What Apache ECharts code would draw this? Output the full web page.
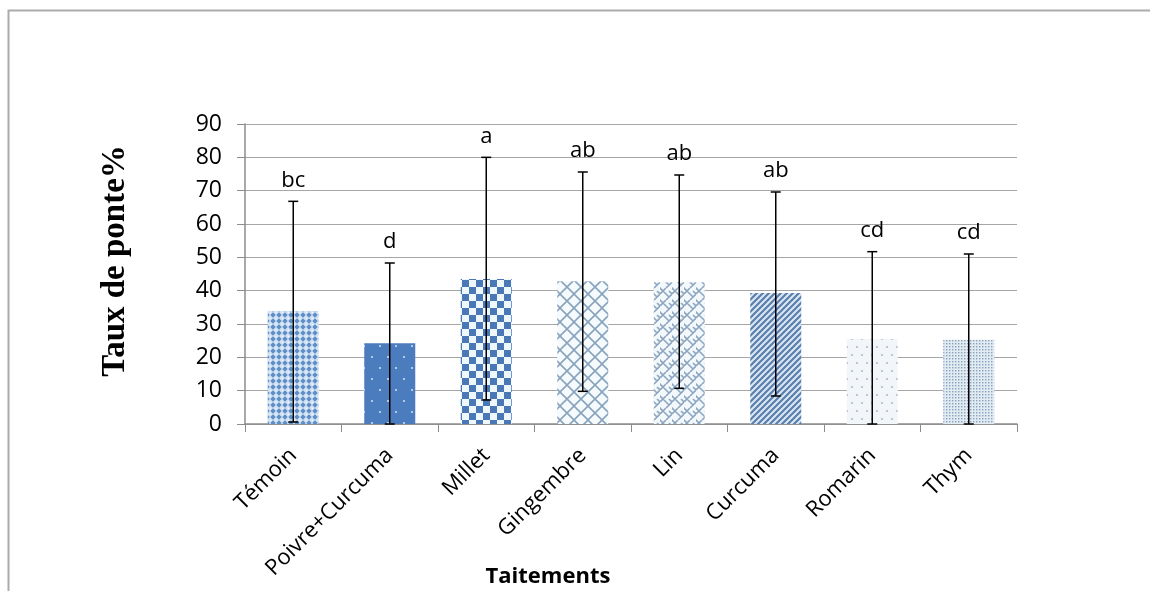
<!DOCTYPE html>
<html>
<head>
<meta charset="utf-8">
<script src="https://cdn.jsdelivr.net/npm/echarts@6/dist/echarts.min.js"></script>
<style>
html,body{margin:0;padding:0;background:#fff;}
#chart{width:1150px;height:591px;}
</style>
</head>
<body>
<div id="chart"></div>
<script>
// ---- data ----
var categories = ['Témoin', 'Poivre+Curcuma', 'Millet', 'Gingembre', 'Lin', 'Curcuma', 'Romarin', 'Thym'];
var means = [33.9, 24.2, 43.5, 42.8, 42.5, 39.3, 25.5, 25.3];
var errUpper = [66.8, 48.3, 80.0, 75.6, 74.7, 69.6, 51.7, 51.0];
var errLower = [0.6, 0.0, 7.2, 9.8, 10.7, 8.4, 0.0, 0.0];
var letters = ['bc', 'd', 'a', 'ab', 'ab', 'ab', 'cd', 'cd'];
var yTicks = [0, 10, 20, 30, 40, 50, 60, 70, 80, 90];

// ---- patterns (style only) ----
function makePattern(w, h, draw) {
  var c = document.createElement('canvas');
  c.width = w; c.height = h;
  var ctx = c.getContext('2d');
  draw(ctx, w, h);
  return { image: c, repeat: 'repeat' };
}
function dot(ctx, x, y, r) { ctx.beginPath(); ctx.arc(x, y, r, 0, Math.PI * 2); ctx.fill(); }

var patterns = [
  // Témoin: small diamonds
  makePattern(6, 6, function (ctx) {
    ctx.fillStyle = '#d2e3f3'; ctx.fillRect(0, 0, 6, 6);
    ctx.fillStyle = '#5f8dc6';
    ctx.beginPath(); ctx.moveTo(3, 0.3); ctx.lineTo(5.7, 3); ctx.lineTo(3, 5.7); ctx.lineTo(0.3, 3); ctx.closePath(); ctx.fill();
    ctx.fillStyle = '#f2f8fd'; ctx.fillRect(0, 0, 1, 1);
  }),
  // Poivre+Curcuma: solid blue with small light dots
  makePattern(16, 22, function (ctx) {
    ctx.fillStyle = '#4a7cbe'; ctx.fillRect(0, 0, 16, 22);
    ctx.fillStyle = '#c8dcef';
    dot(ctx, 4, 5, 1.1); dot(ctx, 12, 16, 1.1);
  }),
  // Millet: checkerboard
  makePattern(14, 14, function (ctx) {
    ctx.fillStyle = '#eef7fc'; ctx.fillRect(0, 0, 14, 14);
    ctx.fillStyle = '#4a77b6';
    ctx.fillRect(0, 0, 7, 7); ctx.fillRect(7, 7, 7, 7);
  }),
  // Gingembre: diagonal crosshatch
  makePattern(14, 14, function (ctx) {
    ctx.fillStyle = '#f5fafd'; ctx.fillRect(0, 0, 14, 14);
    ctx.strokeStyle = '#8aa3bd'; ctx.lineWidth = 1.6;
    ctx.beginPath();
    ctx.moveTo(-1, -1); ctx.lineTo(15, 15);
    ctx.moveTo(15, -1); ctx.lineTo(-1, 15);
    ctx.stroke();
  }),
  // Lin: weave
  makePattern(12, 12, function (ctx) {
    ctx.fillStyle = '#f3f8fc'; ctx.fillRect(0, 0, 12, 12);
    ctx.strokeStyle = '#8ca5bf'; ctx.lineWidth = 1.6;
    ctx.beginPath();
    ctx.moveTo(0, 6); ctx.lineTo(6, 0);
    ctx.moveTo(6, 12); ctx.lineTo(12, 6);
    ctx.moveTo(-1, 11); ctx.lineTo(1, 13);
    ctx.moveTo(3, 3); ctx.lineTo(9, 9);
    ctx.moveTo(9, 3); ctx.lineTo(12, 6);
    ctx.moveTo(0, 0); ctx.lineTo(3, 3);
    ctx.stroke();
  }),
  // Curcuma: diagonal stripes
  makePattern(6, 6, function (ctx) {
    ctx.fillStyle = '#dbe7f3'; ctx.fillRect(0, 0, 6, 6);
    ctx.strokeStyle = '#5a7fae'; ctx.lineWidth = 2.2;
    ctx.beginPath();
    ctx.moveTo(-1, 7); ctx.lineTo(7, -1);
    ctx.moveTo(-4, 4); ctx.lineTo(4, -4);
    ctx.moveTo(2, 10); ctx.lineTo(10, 2);
    ctx.stroke();
  }),
  // Romarin: sparse dots
  makePattern(10, 16, function (ctx) {
    ctx.fillStyle = '#f3f6f9'; ctx.fillRect(0, 0, 10, 16);
    ctx.fillStyle = '#a3b2c2';
    dot(ctx, 2, 3, 0.9); dot(ctx, 7, 11, 0.9);
  }),
  // Thym: dense dots
  makePattern(3, 3, function (ctx) {
    ctx.fillStyle = '#e2eaf2'; ctx.fillRect(0, 0, 3, 3);
    ctx.fillStyle = '#86a2bd';
    ctx.fillRect(1, 1, 1.4, 1.4);
  })
];

var chart = echarts.init(document.getElementById('chart'), null, { renderer: 'canvas' });

var barData = means.map(function (v, i) {
  return { value: v, itemStyle: { color: patterns[i] } };
});
var errData = categories.map(function (c, i) { return [i, errLower[i], errUpper[i]]; });

var option = {
  backgroundColor: '#ffffff',
  animation: false,
  grid: { left: 245, right: 133, top: 124, bottom: 167 },
  xAxis: {
    type: 'category',
    data: categories,
    axisLine: { lineStyle: { color: '#8c8c8c', width: 1.5 } },
    axisTick: { show: true, length: 8, lineStyle: { color: '#8c8c8c' } },
    axisLabel: {
      rotate: 45, margin: 28, color: '#000', fontSize: 22,
      fontFamily: 'Open Sans', interval: 0
    }
  },
  yAxis: {
    type: 'value', min: 0, max: 90, interval: 10,
    axisLine: { show: true, lineStyle: { color: '#8c8c8c', width: 1.5 } },
    axisTick: { show: true, length: 8, lineStyle: { color: '#8c8c8c' } },
    splitLine: { lineStyle: { color: '#a6a6a6', width: 1 } },
    axisLabel: {
      margin: 23, color: '#000', fontSize: 23, fontFamily: 'Open Sans',
      formatter: function (v) { return yTicks.indexOf(v) >= 0 ? String(v) : ''; }
    }
  },
  graphic: [
    { type: 'rect', shape: { x: 8.5, y: 10.5, width: 1200, height: 700 },
      style: { fill: 'none', stroke: '#ababab', lineWidth: 2 }, silent: true, z: -1 },
    { type: 'text', x: 115, y: 261, rotation: Math.PI / 2,
      style: { text: 'Taux de ponte%', font: 'bold 33px "Liberation Serif"', fill: '#000',
        textAlign: 'center', textVerticalAlign: 'middle' } },
    { type: 'text', x: 548, y: 577,
      style: { text: 'Taitements', font: 'bold 22px "Open Sans"', fill: '#000',
        textAlign: 'center', textVerticalAlign: 'middle' } }
  ],
  series: [
    {
      type: 'bar',
      data: barData,
      barWidth: 51,
      itemStyle: { borderWidth: 0 },
      z: 2
    },
    {
      type: 'custom',
      data: errData,
      z: 5,
      encode: { x: 0, y: [1, 2] },
      renderItem: function (params, api) {
        var i = api.value(0);
        var lo = api.coord([i, api.value(1)]);
        var hi = api.coord([i, api.value(2)]);
        var cap = 5;
        var ls = { stroke: '#000', lineWidth: 1.5 };
        return {
          type: 'group',
          children: [
            { type: 'line', shape: { x1: hi[0], y1: hi[1], x2: lo[0], y2: lo[1] }, style: ls },
            { type: 'line', shape: { x1: hi[0] - cap, y1: hi[1], x2: hi[0] + cap, y2: hi[1] }, style: ls },
            { type: 'line', shape: { x1: lo[0] - cap, y1: lo[1], x2: lo[0] + cap, y2: lo[1] }, style: ls },
            { type: 'text', x: hi[0], y: hi[1] - 10,
              style: { text: letters[params.dataIndex], font: '22px "Open Sans"', fill: '#000',
                textAlign: 'center', textVerticalAlign: 'bottom' } }
          ]
        };
      }
    }
  ]
};
chart.setOption(option);
</script>
</body>
</html>
